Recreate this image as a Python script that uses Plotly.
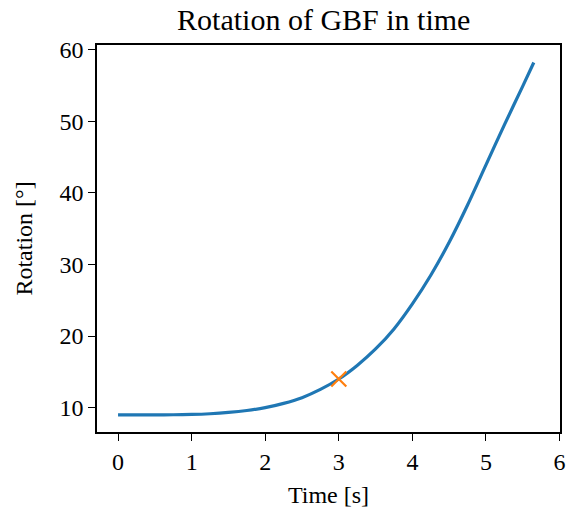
import plotly.graph_objects as go

# Data
time_s = [0.0, 0.25, 0.5, 0.75, 1.0, 1.25, 1.5, 1.75, 2.0, 2.25, 2.5, 2.75, 3.0,
          3.25, 3.5, 3.75, 4.0, 4.25, 4.5, 4.75, 5.0, 5.25, 5.5, 5.65]
rotation_deg = [9.0, 9.0, 9.0, 9.01, 9.05, 9.15, 9.33, 9.6, 10.0, 10.6, 11.4, 12.55, 14.0,
                15.9, 18.2, 21.0, 24.5, 28.5, 33.1, 38.3, 43.9, 49.5, 54.9, 58.2]
marker_t = [3.0]
marker_rot = [14.0]

x_ticks = [0, 1, 2, 3, 4, 5, 6]
y_ticks = [10, 20, 30, 40, 50, 60]

FONT = "Liberation Serif"

fig = go.Figure()
fig.add_trace(go.Scatter(
    x=time_s, y=rotation_deg, mode="lines",
    line=dict(color="#1f77b4", width=3.2, shape="spline", smoothing=0.8),
    showlegend=False, hoverinfo="skip",
))
fig.add_trace(go.Scatter(
    x=marker_t, y=marker_rot, mode="markers",
    marker=dict(symbol="x-thin", size=15, line=dict(color="#ff7f0e", width=2.2)),
    showlegend=False,
))

axis_common = dict(
    showline=True, linecolor="black", linewidth=1.6, mirror=True,
    ticks="outside", ticklen=7, tickwidth=1.4, tickcolor="black",
    showgrid=False, zeroline=False, automargin=False,
    tickfont=dict(family=FONT, size=24, color="black"),
)

fig.update_layout(
    width=572, height=517,
    margin=dict(l=97, r=12, t=45, b=85),
    paper_bgcolor="white", plot_bgcolor="white",
    title=dict(text="Rotation of GBF in time", x=0.566, xanchor="center",
               yref="container", y=1 - 19 / 517, yanchor="middle",
               font=dict(family=FONT, size=30, color="black")),
    xaxis=dict(range=[-0.286, 6.006], tickvals=x_ticks, ticktext=[str(v) for v in x_ticks],
               title=dict(text="Time [s]", font=dict(family=FONT, size=24, color="black"), standoff=13),
               **axis_common),
    yaxis=dict(range=[6.6, 60.65], tickvals=y_ticks, ticktext=[str(v) for v in y_ticks],
               title=dict(text="Rotation [°]", font=dict(family=FONT, size=24, color="black"), standoff=20),
               **axis_common),
)

fig.write_html("out.html")
